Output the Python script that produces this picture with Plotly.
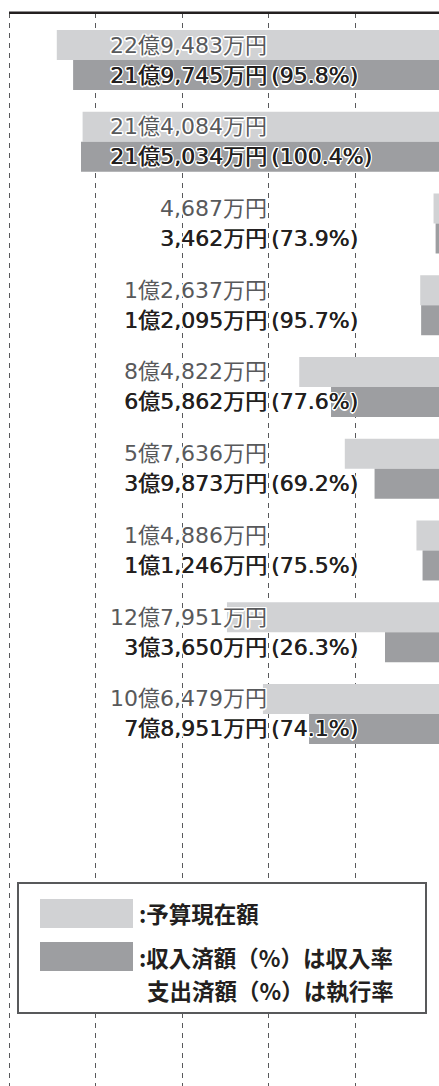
import plotly.graph_objects as go

# ---- data (万円) ----
budget = [229483, 214084, 4687, 12637, 84822, 57636, 14886, 127951, 106479]
actual = [219745, 215034, 3462, 12095, 65862, 39873, 11246, 33650, 78951]
rates = [95.8, 100.4, 73.9, 95.7, 77.6, 69.2, 75.5, 26.3, 74.1]
legend_labels = [":予算現在額", ":収入済額（%）は収入率", "支出済額（%）は執行率"]

LIGHT = "#d1d2d4"
DARK = "#9d9ea1"
W, H = 439, 1086
TOP = 13


def fmt(v):
    oku, man = divmod(v, 10000)
    return (f"{oku}億" if oku else "") + f"{man:,}万円"


idx = list(range(len(budget)))

fig = go.Figure()
fig.add_trace(go.Bar(y=idx, x=budget, orientation="h", marker_color=LIGHT,
                     marker_line_width=0, hoverinfo="skip"))
fig.add_trace(go.Bar(y=idx, x=actual, orientation="h", marker_color=DARK,
                     marker_line_width=0, hoverinfo="skip"))

grid_step = 51551  # 万円 between dashed guide lines
label_x = 2 * grid_step

halo = ", ".join(f"{a}px {b}px 0 white" for a, b in
                 [(1.5, 0), (-1.5, 0), (0, 1.5), (0, -1.5),
                  (1.2, 1.2), (-1.2, -1.2), (1.2, -1.2), (-1.2, 1.2)])
bold_halo = "0.5px 0 0 #231f20, " + halo
FONT = "DejaVu Sans, Noto Sans CJK JP, sans-serif"
FS = 22

ann = []
for i in idx:
    ann.append(dict(x=label_x, y=i - 0.1835, xref="x", yref="y", text=fmt(budget[i]),
                    showarrow=False, xanchor="right", yanchor="middle",
                    font=dict(family=FONT, size=FS, color="#58595b", shadow=halo)))
    ann.append(dict(x=label_x, y=i + 0.1835, xref="x", yref="y", text=fmt(actual[i]),
                    showarrow=False, xanchor="right", yanchor="middle",
                    font=dict(family=FONT, size=FS, color="#231f20", shadow=bold_halo)))
    ann.append(dict(x=label_x, y=i + 0.1835, xref="x", yref="y", text=f"({rates[i]}%)",
                    showarrow=False, xanchor="left", yanchor="middle",
                    font=dict(family=FONT, size=FS, color="#231f20", shadow=bold_halo)))


def px(X):
    return X / W


def py(Y):
    return (H - Y) / (H - TOP)


LFONT = dict(family="Noto Sans CJK JP, sans-serif", size=22.5, color="#231f20", weight="bold")
ann.append(dict(x=px(137), y=py(913), xref="paper", yref="paper", text=legend_labels[0],
                showarrow=False, xanchor="left", yanchor="middle", font=LFONT))
ann.append(dict(x=px(137), y=py(957), xref="paper", yref="paper", text=legend_labels[1],
                showarrow=False, xanchor="left", yanchor="middle", font=LFONT))
ann.append(dict(x=px(145), y=py(990), xref="paper", yref="paper", text=legend_labels[2],
                showarrow=False, xanchor="left", yanchor="middle", font=LFONT))

shapes = [
    dict(type="line", xref="paper", yref="paper", x0=px(9), x1=1.0, y0=py(12.8), y1=py(12.8),
         line=dict(color="#231f20", width=2.5)),
    dict(type="rect", xref="paper", yref="paper", x0=px(18), x1=px(426), y0=py(883), y1=py(1013),
         fillcolor="white", line=dict(color="#58595b", width=2)),
    dict(type="rect", xref="paper", yref="paper", x0=px(40), x1=px(133), y0=py(899), y1=py(928),
         fillcolor=LIGHT, line=dict(width=0)),
    dict(type="rect", xref="paper", yref="paper", x0=px(40), x1=px(133), y0=py(942), y1=py(971),
         fillcolor=DARK, line=dict(width=0)),
]

fig.update_layout(
    width=W, height=H,
    margin=dict(l=0, r=0, t=TOP, b=0, pad=0),
    paper_bgcolor="white", plot_bgcolor="white",
    barmode="group", bargap=0.266, bargroupgap=0,
    showlegend=False,
    annotations=ann, shapes=shapes,
    xaxis=dict(range=[263365, 1432], tick0=0, dtick=grid_step, showgrid=True,
               gridcolor="#58595b", gridwidth=1, griddash="5px,5px",
               showticklabels=False, zeroline=False, showline=False, ticks=""),
    yaxis=dict(range=[12.551, -0.5749], showgrid=False, showticklabels=False,
               zeroline=False, showline=False, ticks=""),
)

fig.write_html(
    "out.html",
    config={"displayModeBar": False},
    post_script="document.body.style.margin='0';document.body.style.overflow='hidden';",
)
